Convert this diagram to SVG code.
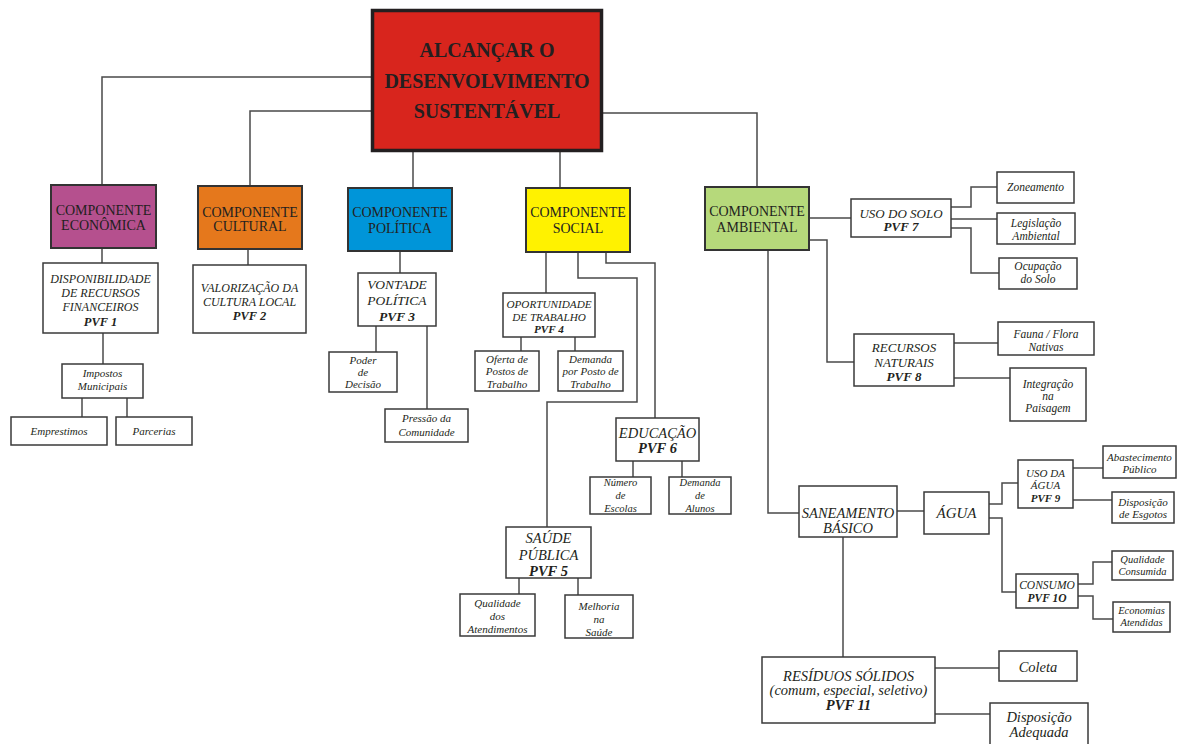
<svg xmlns="http://www.w3.org/2000/svg" width="1177" height="744" viewBox="0 0 1177 744" font-family="'Liberation Serif', 'Times New Roman', serif">
  <style>
    text { font-family: 'Liberation Serif', 'Times New Roman', serif; fill: #231F20; text-anchor: middle; }
    .it { font-style: italic; }
    .b { font-weight: bold; }
    .box { fill: #ffffff; stroke: #3a3a3a; stroke-width: 1.5; }
    .comp { stroke: #333333; stroke-width: 2; }
    .link { fill: none; stroke: #4a4a4a; stroke-width: 1.5; }
  </style>

  <rect width="1177" height="744" fill="#ffffff"/>

  <!-- connectors -->
  <g id="connectors" class="link">
    <path d="M371,77 H102 V185"/>
    <path d="M371,111 H250 V186"/>
    <path d="M413,152 V188"/>
    <path d="M560,152 V188"/>
    <path d="M603,113 H757 V187"/>
    <path d="M102,248 V263"/>
    <path d="M103,333 V364"/>
    <path d="M82,398 V417"/>
    <path d="M127,398 V417"/>
    <path d="M248,249 V265"/>
    <path d="M400,251 V273"/>
    <path d="M376,326 V352"/>
    <path d="M427,326 V409"/>
    <path d="M546,252 V293"/>
    <path d="M578,252 V278 H637 V402 H547 V527"/>
    <path d="M606,252 V263 H655 V418"/>
    <path d="M521,337 V351"/>
    <path d="M575,337 V351"/>
    <path d="M633,461 V477"/>
    <path d="M682,461 V477"/>
    <path d="M519,578 V594"/>
    <path d="M578,578 V595"/>
    <path d="M809,218 H851"/>
    <path d="M809,240 H827 V362 H854"/>
    <path d="M768,250 V513 H799"/>
    <path d="M951,207 H971 V187 H997"/>
    <path d="M951,219 H997"/>
    <path d="M951,228 H971 V273 H999"/>
    <path d="M954,343 H998"/>
    <path d="M954,378 H1010"/>
    <path d="M897,511 H924"/>
    <path d="M989,504 H1002 V483 H1018"/>
    <path d="M989,518 H1002 V592 H1016"/>
    <path d="M1073,468 H1103"/>
    <path d="M1073,500 H1112"/>
    <path d="M1078,584 H1093 V562 H1112"/>
    <path d="M1078,596 H1093 V619 H1113"/>
    <path d="M843,537 V657"/>
    <path d="M935,668 H999"/>
    <path d="M935,714 H990"/>
  </g>

  <!-- root goal -->
  <g id="goal">
    <rect x="372.5" y="10.5" width="229" height="140" fill="#D8251D" stroke="#231F20" stroke-width="3.5"/>
    <text class="b" x="487" y="57" font-size="20">ALCANÇAR O</text>
    <text class="b" x="487" y="88" font-size="20">DESENVOLVIMENTO</text>
    <text class="b" x="487" y="118" font-size="20">SUSTENTÁVEL</text>
  </g>

  <!-- components -->
  <g id="comp-economica">
    <rect class="comp" x="51" y="185" width="105" height="63" fill="#B5508E"/>
    <text x="103.5" y="215" font-size="14">COMPONENTE</text>
    <text x="103.5" y="230" font-size="14">ECONÔMICA</text>
  </g>
  <g id="comp-cultural">
    <rect class="comp" x="198" y="186" width="104" height="63" fill="#E5781C"/>
    <text x="250" y="217" font-size="14">COMPONENTE</text>
    <text x="250" y="231" font-size="14">CULTURAL</text>
  </g>
  <g id="comp-politica">
    <rect class="comp" x="348" y="188" width="104" height="63" fill="#0095D9"/>
    <text x="400" y="217" font-size="14">COMPONENTE</text>
    <text x="400" y="233" font-size="14">POLÍTICA</text>
  </g>
  <g id="comp-social">
    <rect class="comp" x="526" y="188" width="104" height="64" fill="#FFF200"/>
    <text x="578" y="217" font-size="14">COMPONENTE</text>
    <text x="578" y="233" font-size="14">SOCIAL</text>
  </g>
  <g id="comp-ambiental">
    <rect class="comp" x="705" y="187" width="104" height="63" fill="#B6D97B"/>
    <text x="757" y="216" font-size="14">COMPONENTE</text>
    <text x="757" y="232" font-size="14">AMBIENTAL</text>
  </g>

  <!-- economic branch -->
  <g id="pvf1">
    <rect class="box" x="43" y="263" width="115" height="70"/>
    <text class="it" x="100.5" y="283" font-size="12">DISPONIBILIDADE</text>
    <text class="it" x="100.5" y="297" font-size="12">DE RECURSOS</text>
    <text class="it" x="100.5" y="311" font-size="12">FINANCEIROS</text>
    <text class="it b" x="100.5" y="326" font-size="12.5">PVF 1</text>
  </g>
  <g id="impostos">
    <rect class="box" x="62" y="364" width="81" height="34"/>
    <text class="it" x="102.5" y="377" font-size="11">Impostos</text>
    <text class="it" x="102.5" y="390" font-size="11">Municipais</text>
  </g>
  <g id="emprestimos">
    <rect class="box" x="11" y="417" width="96" height="28"/>
    <text class="it" x="59" y="435" font-size="11">Emprestimos</text>
  </g>
  <g id="parcerias">
    <rect class="box" x="116" y="417" width="76" height="28"/>
    <text class="it" x="154" y="435" font-size="11">Parcerias</text>
  </g>

  <!-- cultural branch -->
  <g id="pvf2">
    <rect class="box" x="193" y="265" width="113" height="68"/>
    <text class="it" x="249.5" y="292" font-size="12">VALORIZAÇÃO DA</text>
    <text class="it" x="249.5" y="306" font-size="12">CULTURA LOCAL</text>
    <text class="it b" x="249.5" y="320" font-size="12.5">PVF 2</text>
  </g>

  <!-- political branch -->
  <g id="pvf3">
    <rect class="box" x="358" y="273" width="78" height="53"/>
    <text class="it" x="397" y="289" font-size="13.5">VONTADE</text>
    <text class="it" x="397" y="305" font-size="13.5">POLÍTICA</text>
    <text class="it b" x="397" y="321" font-size="13.5">PVF 3</text>
  </g>
  <g id="poder">
    <rect class="box" x="329" y="352" width="68" height="40"/>
    <text class="it" x="363" y="364" font-size="11">Poder</text>
    <text class="it" x="363" y="376" font-size="11">de</text>
    <text class="it" x="363" y="388" font-size="11">Decisão</text>
  </g>
  <g id="pressao">
    <rect class="box" x="385" y="409" width="83" height="33"/>
    <text class="it" x="426.5" y="422" font-size="11">Pressão da</text>
    <text class="it" x="426.5" y="436" font-size="11">Comunidade</text>
  </g>

  <!-- social branch -->
  <g id="pvf4">
    <rect class="box" x="503" y="293" width="92" height="44"/>
    <text class="it" x="549" y="308" font-size="11.2">OPORTUNIDADE</text>
    <text class="it" x="549" y="321" font-size="11.2">DE TRABALHO</text>
    <text class="it b" x="549" y="333" font-size="11.2">PVF 4</text>
  </g>
  <g id="oferta">
    <rect class="box" x="475" y="351" width="64" height="40"/>
    <text class="it" x="507" y="363" font-size="11">Oferta de</text>
    <text class="it" x="507" y="375" font-size="11">Postos de</text>
    <text class="it" x="507" y="388" font-size="11">Trabalho</text>
  </g>
  <g id="demanda-posto">
    <rect class="box" x="558" y="351" width="65" height="40"/>
    <text class="it" x="590.5" y="363" font-size="11">Demanda</text>
    <text class="it" x="590.5" y="375" font-size="11">por Posto de</text>
    <text class="it" x="590.5" y="388" font-size="11">Trabalho</text>
  </g>
  <g id="pvf6">
    <rect class="box" x="616" y="418" width="83" height="43"/>
    <text class="it" x="657.5" y="438" font-size="14.5">EDUCAÇÃO</text>
    <text class="it b" x="657.5" y="453" font-size="14.5">PVF 6</text>
  </g>
  <g id="numero-escolas">
    <rect class="box" x="590" y="477" width="61" height="37"/>
    <text class="it" x="620.5" y="486" font-size="10.5">Número</text>
    <text class="it" x="620.5" y="499" font-size="10.5">de</text>
    <text class="it" x="620.5" y="512" font-size="10.5">Escolas</text>
  </g>
  <g id="demanda-alunos">
    <rect class="box" x="669" y="477" width="62" height="37"/>
    <text class="it" x="700" y="486" font-size="10.5">Demanda</text>
    <text class="it" x="700" y="499" font-size="10.5">de</text>
    <text class="it" x="700" y="512" font-size="10.5">Alunos</text>
  </g>
  <g id="pvf5">
    <rect class="box" x="506" y="527" width="85" height="51"/>
    <text class="it" x="548.5" y="543" font-size="14.5">SAÚDE</text>
    <text class="it" x="548.5" y="560" font-size="14.5">PÚBLICA</text>
    <text class="it b" x="548.5" y="576" font-size="14.5">PVF 5</text>
  </g>
  <g id="qualidade-atendimentos">
    <rect class="box" x="460" y="594" width="75" height="42"/>
    <text class="it" x="497.5" y="607" font-size="11">Qualidade</text>
    <text class="it" x="497.5" y="620" font-size="11">dos</text>
    <text class="it" x="497.5" y="633" font-size="11">Atendimentos</text>
  </g>
  <g id="melhoria">
    <rect class="box" x="565" y="595" width="68" height="43"/>
    <text class="it" x="599" y="610" font-size="11">Melhoria</text>
    <text class="it" x="599" y="623" font-size="11">na</text>
    <text class="it" x="599" y="636" font-size="11">Saúde</text>
  </g>

  <!-- environmental branch -->
  <g id="pvf7">
    <rect class="box" x="851" y="199" width="100" height="38"/>
    <text class="it" x="901" y="218" font-size="13">USO DO SOLO</text>
    <text class="it b" x="901" y="231" font-size="13">PVF 7</text>
  </g>
  <g id="zoneamento">
    <rect class="box" x="997" y="172" width="77" height="31"/>
    <text class="it" x="1035.5" y="191" font-size="11.5">Zoneamento</text>
  </g>
  <g id="legislacao">
    <rect class="box" x="997" y="213" width="78" height="31"/>
    <text class="it" x="1036" y="227" font-size="11.5">Legislação</text>
    <text class="it" x="1036" y="240" font-size="11.5">Ambiental</text>
  </g>
  <g id="ocupacao">
    <rect class="box" x="999" y="258" width="78" height="31"/>
    <text class="it" x="1038" y="270" font-size="11.5">Ocupação</text>
    <text class="it" x="1038" y="283" font-size="11.5">do Solo</text>
  </g>
  <g id="pvf8">
    <rect class="box" x="854" y="334" width="100" height="52"/>
    <text class="it" x="904" y="352" font-size="13">RECURSOS</text>
    <text class="it" x="904" y="367" font-size="13">NATURAIS</text>
    <text class="it b" x="904" y="381" font-size="13">PVF 8</text>
  </g>
  <g id="fauna-flora">
    <rect class="box" x="998" y="322" width="96" height="33"/>
    <text class="it" x="1046" y="338" font-size="11.5">Fauna / Flora</text>
    <text class="it" x="1046" y="351" font-size="11.5">Nativas</text>
  </g>
  <g id="integracao">
    <rect class="box" x="1010" y="368" width="76" height="53"/>
    <text class="it" x="1048" y="388" font-size="11.5">Integração</text>
    <text class="it" x="1048" y="400" font-size="11.5">na</text>
    <text class="it" x="1048" y="412" font-size="11.5">Paisagem</text>
  </g>
  <g id="saneamento">
    <rect class="box" x="799" y="486" width="98" height="51"/>
    <text class="it" x="848" y="518" font-size="14.5">SANEAMENTO</text>
    <text class="it" x="848" y="533" font-size="14.5">BÁSICO</text>
  </g>
  <g id="agua">
    <rect class="box" x="924" y="492" width="65" height="42"/>
    <text class="it" x="956.5" y="518" font-size="15">ÁGUA</text>
  </g>
  <g id="pvf9">
    <rect class="box" x="1018" y="460" width="55" height="48"/>
    <text class="it" x="1045.5" y="477" font-size="11">USO DA</text>
    <text class="it" x="1045.5" y="489" font-size="11">ÁGUA</text>
    <text class="it b" x="1045.5" y="502" font-size="11">PVF 9</text>
  </g>
  <g id="abastecimento">
    <rect class="box" x="1103" y="446" width="73" height="32"/>
    <text class="it" x="1139.5" y="461" font-size="11">Abastecimento</text>
    <text class="it" x="1139.5" y="473" font-size="11">Público</text>
  </g>
  <g id="esgotos">
    <rect class="box" x="1112" y="492" width="62" height="31"/>
    <text class="it" x="1143" y="506" font-size="11">Disposição</text>
    <text class="it" x="1143" y="518" font-size="11">de Esgotos</text>
  </g>
  <g id="pvf10">
    <rect class="box" x="1016" y="574" width="62" height="34"/>
    <text class="it" x="1047" y="589" font-size="11.5">CONSUMO</text>
    <text class="it b" x="1047" y="602" font-size="11.5">PVF 1O</text>
  </g>
  <g id="qualidade-consumida">
    <rect class="box" x="1112" y="551" width="61" height="29"/>
    <text class="it" x="1142.5" y="563" font-size="10.5">Qualidade</text>
    <text class="it" x="1142.5" y="575" font-size="10.5">Consumida</text>
  </g>
  <g id="economias">
    <rect class="box" x="1113" y="602" width="57" height="30"/>
    <text class="it" x="1141.5" y="614" font-size="10.5">Economias</text>
    <text class="it" x="1141.5" y="626" font-size="10.5">Atendidas</text>
  </g>
  <g id="pvf11">
    <rect class="box" x="762" y="657" width="173" height="66"/>
    <text class="it" x="848.5" y="681" font-size="14.5">RESÍDUOS SÓLIDOS</text>
    <text class="it" x="848.5" y="695" font-size="14.5">(comum, especial, seletivo)</text>
    <text class="it b" x="848.5" y="710" font-size="14.5">PVF 11</text>
  </g>
  <g id="coleta">
    <rect class="box" x="999" y="651" width="78" height="30"/>
    <text class="it" x="1038" y="672" font-size="14.5">Coleta</text>
  </g>
  <g id="disposicao-adequada">
    <rect class="box" x="990" y="703" width="98" height="50"/>
    <text class="it" x="1039" y="722" font-size="14.5">Disposição</text>
    <text class="it" x="1039" y="737" font-size="14.5">Adequada</text>
  </g>
</svg>
